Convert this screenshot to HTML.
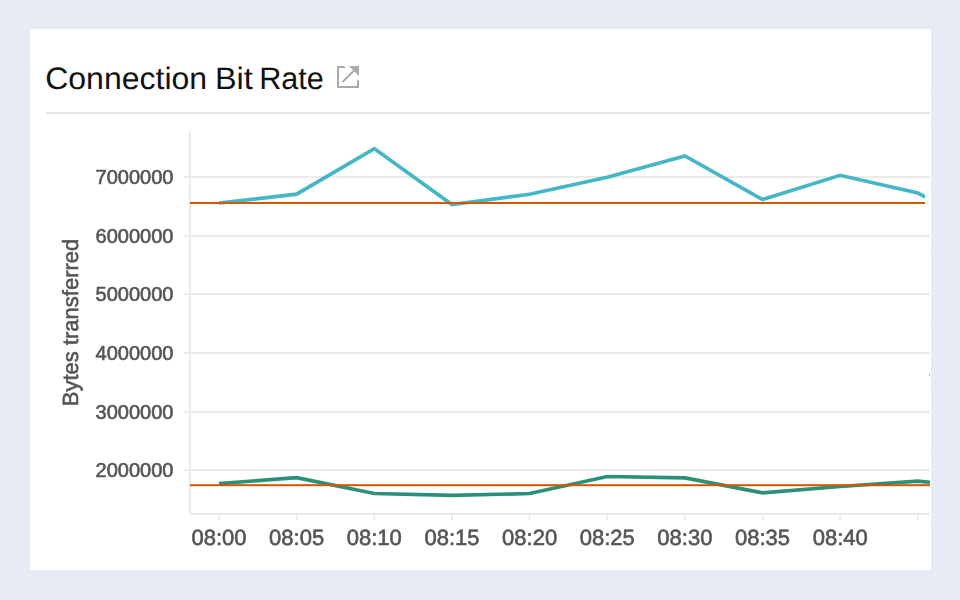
<!DOCTYPE html>
<html><head><meta charset="utf-8">
<style>
html,body{margin:0;padding:0;}
body{width:960px;height:600px;background:#e7ebf3;position:relative;overflow:hidden;font-family:"Liberation Sans",sans-serif;}
.card{position:absolute;left:30px;top:29px;width:901px;height:541px;background:#fff;}
svg{position:absolute;left:0;top:0;}
svg.chart{will-change:transform;}
</style></head><body>
<div class="card"></div>
<svg width="960" height="600" viewBox="0 0 960 600">
  <g font-family="Liberation Sans" font-size="31" fill="#111" text-rendering="geometricPrecision">
    <text x="45.2" y="89" textLength="162" lengthAdjust="spacingAndGlyphs">Connection</text>
    <text x="215" y="89" textLength="37.8" lengthAdjust="spacingAndGlyphs">Bit</text>
    <text x="259.2" y="89" textLength="64.6" lengthAdjust="spacingAndGlyphs">Rate</text>
  </g>
  <g fill="#aaa" stroke="none">
    <path d="M337 66h7l2 2H339v18h18v-6.7l2 2V88H337z"/>
    <path d="M349 66H359v10z"/>
  </g>
  <path d="M342.5 82L354 70.5" stroke="#aaa" stroke-width="2" fill="none"/>
  <rect x="46" y="112" width="884" height="2" fill="#e3e3e3"/>
</svg>
<svg class="chart" width="960" height="600" viewBox="0 0 960 600">
  <defs><clipPath id="c"><rect x="30" y="29" width="900" height="541"/></clipPath><clipPath id="c2"><rect x="30" y="29" width="895" height="541"/></clipPath></defs>
  <g clip-path="url(#c)">
    <g fill="#ebebeb">
      <rect x="184" y="176" width="746" height="2"/>
      <rect x="184" y="235" width="746" height="2"/>
      <rect x="184" y="293" width="746" height="2"/>
      <rect x="184" y="352" width="746" height="2"/>
      <rect x="184" y="411" width="746" height="2"/>
      <rect x="184" y="469" width="746" height="2"/>
      <rect x="189" y="131" width="2" height="383"/>
      <rect x="190" y="513" width="740" height="2"/>
      <rect x="218" y="515" width="2" height="5"/>
      <rect x="295.65" y="515" width="2" height="5"/>
      <rect x="373.3" y="515" width="2" height="5"/>
      <rect x="450.95" y="515" width="2" height="5"/>
      <rect x="528.6" y="515" width="2" height="5"/>
      <rect x="606.25" y="515" width="2" height="5"/>
      <rect x="683.9" y="515" width="2" height="5"/>
      <rect x="761.55" y="515" width="2" height="5"/>
      <rect x="839.2" y="515" width="2" height="5"/>
      <rect x="916.85" y="515" width="2" height="5"/>
    </g>
    <g font-family="Liberation Sans" font-size="20" fill="#555" stroke="#555" stroke-width="0.6" text-anchor="end">
      <text x="173.4" y="184">7000000</text>
      <text x="173.4" y="243">6000000</text>
      <text x="173.4" y="301">5000000</text>
      <text x="173.4" y="360">4000000</text>
      <text x="173.4" y="419">3000000</text>
      <text x="173.4" y="477">2000000</text>
    </g>
    <g font-family="Liberation Sans" font-size="22" fill="#555" stroke="#555" stroke-width="0.6" text-anchor="middle" text-rendering="geometricPrecision">
      <text x="219" y="545">08:00</text>
      <text x="296.65" y="545">08:05</text>
      <text x="374.3" y="545">08:10</text>
      <text x="451.95" y="545">08:15</text>
      <text x="529.6" y="545">08:20</text>
      <text x="607.25" y="545">08:25</text>
      <text x="684.9" y="545">08:30</text>
      <text x="762.55" y="545">08:35</text>
      <text x="840.2" y="545">08:40</text>
    </g>
    <text transform="translate(78 322.5) rotate(-90)" text-rendering="geometricPrecision" font-family="Liberation Sans" font-size="22" fill="#555" stroke="#555" stroke-width="0.6" text-anchor="middle">Bytes transferred</text>
    <polyline clip-path="url(#c2)" fill="none" stroke="#45b6c6" stroke-width="3.7" stroke-linejoin="miter" points="219,203 296.65,194.2 374.3,148.6 451.95,204.5 529.6,194.3 607.25,177.2 684.9,156 762.55,199.5 840.2,175.3 917.85,193 935,202"/>
    <polyline fill="none" stroke="#2c9077" stroke-width="3.7" stroke-linejoin="miter" points="219,483.6 296.65,477.6 374.3,493.5 451.95,495.4 529.6,493.5 607.25,476.5 684.9,477.9 762.55,492.9 840.2,486.5 917.85,481.2 935,482.7"/>
    <rect x="190" y="202" width="735" height="2" fill="#d45700"/>
    <rect x="190" y="484.2" width="745" height="2" fill="#d45700"/>
    <rect x="929.5" y="373.5" width="2" height="3" fill="#d45700"/>
    <g fill="#e6e6e6"><rect x="929.3" y="90" width="1" height="2"/><rect x="929.3" y="121" width="1" height="2"/><rect x="929.3" y="186.5" width="1" height="2"/><rect x="929.3" y="253.5" width="1" height="2"/><rect x="929.3" y="321" width="1" height="2"/><rect x="929.3" y="388.5" width="1" height="2"/><rect x="929.3" y="453" width="1" height="2"/><rect x="929.3" y="521" width="1" height="2"/></g>
  </g>
</svg>
</body></html>
